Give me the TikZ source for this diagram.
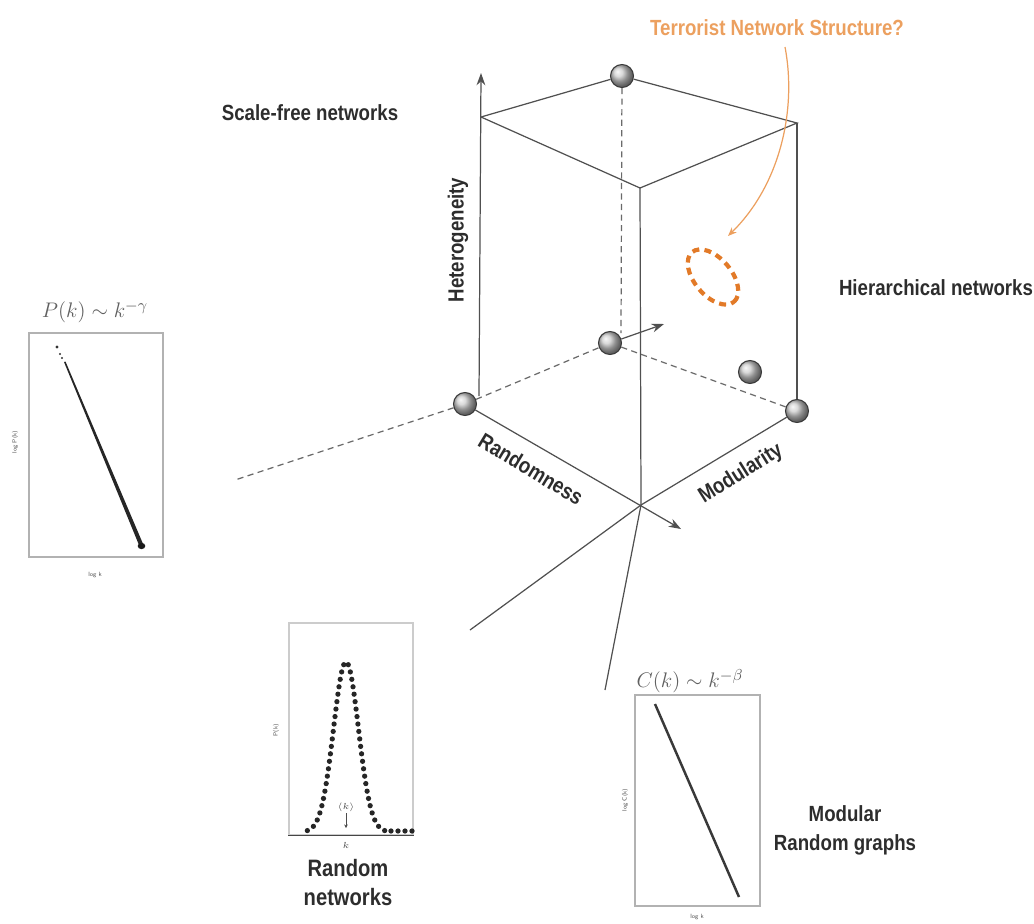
\documentclass[tikz,border=0pt]{standalone}
\usepackage{fontspec}
\newfontfamily\lab{Liberation Sans}[FakeStretch=0.85]
\usetikzlibrary{arrows.meta,shapes.geometric}
\definecolor{edge}{RGB}{80,80,80}
\definecolor{orng}{RGB}{236,160,95}
\definecolor{orngd}{RGB}{226,122,40}
\definecolor{txt}{RGB}{45,45,45}
\begin{document}
\begin{tikzpicture}[x=0.02cm,y=-0.02cm,
  edgeline/.style={draw=edge, line width=0.7pt},
  dashline/.style={draw=edge!85, line width=0.7pt, dash pattern=on 3.5pt off 2.5pt},
  sph/.style={circle, minimum size=0.46cm, inner sep=0pt, ball color=gray!40, draw=gray!45!black, line width=0.6pt},
  lbl/.style={font=\lab\bfseries\fontsize{12.5}{16}\selectfont, text=txt},
  plotbox/.style={draw=gray!60, line width=0.8pt},
  tinylbl/.style={font=\sffamily\fontsize{3.5}{4}\selectfont, text=gray!60!black, inner sep=0pt},
  ptitle/.style={font=\fontsize{13}{13}\selectfont, text=gray!75!black},
  axarrow/.style={-{Stealth[length=7pt,width=5pt]}}
]
\useasboundingbox (0,0) rectangle (1034,923);

% ---- cube corners ----
\coordinate (tl) at (481,117);
\coordinate (tr) at (797,123);
\coordinate (tf) at (640,188);
\coordinate (O) at (641,505);
\coordinate (hetBase) at (479,396);
\coordinate (hetTip) at (481,73);
\coordinate (randTip) at (681,529);
\coordinate (midTip) at (664,324);
\coordinate (dv) at (621,333);
\coordinate (dl) at (235,480);
\coordinate (l1) at (470,630);
\coordinate (l2) at (605,690);

% ---- spheres ----
\node[sph] (tb) at (622,76) {};
\node[sph] (mid) at (610,343) {};
\node[sph] (bl) at (465,404) {};
\node[sph] (br) at (797,411) {};
\node[sph] (ex) at (750,372) {};

% ---- dashed (hidden) lines ----
\draw[dashline] (tb) -- (dv);
\draw[dashline] (bl) -- (mid);
\draw[dashline] (mid) -- (br);
\draw[dashline] (bl) -- (dl);

% ---- solid edges ----
\draw[edgeline] (tl) -- (tb) -- (tr) -- (tf) -- (tl);
\draw[edgeline] (tf) -- (O);
\draw[edgeline] (tr) -- (br);
\draw[edgeline, axarrow] (hetBase) -- (hetTip);
\draw[edgeline, axarrow] (bl) -- (randTip);
\draw[edgeline] (O) -- (br);
\draw[edgeline, axarrow] (mid) -- (midTip);
\draw[edgeline] (O) -- (l1);
\draw[edgeline] (O) -- (l2);

% ---- axis labels ----
\node[lbl, rotate=90] (het) at (458,240) {Heterogeneity};
\node[lbl, rotate=-31] (rnd) at (531,469) {Randomness};
\node[lbl, rotate=32] (mod) at (741,474) {Modularity};

% ---- category labels ----
\node[lbl, anchor=base] (sf) at (310,120) {Scale-free networks};
\node[lbl, anchor=base] (hier) at (936,295) {Hierarchical networks};
\node[lbl, anchor=base, align=center] (mrg) at (845,850) {Modular\\Random graphs};
\node[lbl, anchor=base, align=center, font=\lab\bfseries\fontsize{13.5}{16}\selectfont] (rn) at (348,905) {Random\\networks};

% ---- terrorist annotation ----
\node[font=\lab\bfseries\fontsize{12.5}{15}\selectfont, text=orng, anchor=base] (terr) at (777,35) {Terrorist Network Structure?};
\node[ellipse, draw=orngd, line width=2.4pt, dash pattern=on 4pt off 3pt, minimum width=1.3cm, minimum height=0.74cm, rotate=-50] (tn) at (713,277) {};
\coordinate (oa) at (785,47);
\coordinate (ob) at (728,236);
\draw[orng, line width=0.7pt, -{Stealth[length=5pt,width=4pt]}] (oa) .. controls (797,110) and (780,185) .. (ob);

% ---- plot 1: scale-free ----
\node[plotbox, minimum width=2.68cm, minimum height=4.48cm, inner sep=0pt] (p1) at (96,445) {};
\node[ptitle] (p1t) at (95,312) {$P(k)\sim k^{-\gamma}$};
\fill[black!80] (57,347) circle (0.9pt);
\fill[black!80] (60,354) circle (0.7pt);
\fill[black!80] (62,358) circle (0.7pt);
\fill[black!85] (64,362) -- (65.5,361.5) -- (143.5,545) -- (140,547.5) -- cycle;
\fill[black!90] (141.5,546) ellipse (2.2pt and 1.8pt);
\node[tinylbl] (p1x) at (95,575) {log k};
\node[tinylbl, rotate=90] (p1y) at (15,442) {log P(k)};

% ---- plot 2: random ----
\node[plotbox, draw=gray!40, minimum width=2.48cm, minimum height=4.24cm, inner sep=0pt] (p2) at (351,729) {};
\draw[gray!55!black, line width=0.8pt] (p2.south west) -- (p2.south east);
\foreach \d in {2.25,4.34,5.80,7.02,8.10,9.11,10.07,11.0,11.91,12.81,13.72,14.64,15.58,16.56,17.58,18.65,19.81,21.11,22.52,24.14,26.13,28.77,32.6,38.65}{
  \pgfmathsetmacro\yy{832-170*exp(-\d*\d/312.5)}
  \fill[black!85] (346+\d,\yy) circle (1.5pt);
  \fill[black!85] (346-\d,\yy) circle (1.5pt);
}
\foreach \xx in {391,398,405,412}{
  \fill[black!85] (\xx,831) circle (1.5pt);
}
\node[tinylbl] (p2k) at (346,807) {$\langle k\rangle$};
\coordinate (p2a) at (346,813);
\coordinate (p2b) at (346,828);
\draw[gray!60!black, line width=0.4pt, -{Stealth[length=2pt,width=2pt]}] (p2a) -- (p2b);
\node[tinylbl] (p2x) at (346,845) {$k$};
\node[tinylbl, rotate=90] (p2y) at (276,730) {P(k)};

% ---- plot 3: hierarchical ----
\node[plotbox, minimum width=2.5cm, minimum height=4.22cm, inner sep=0pt] (p3) at (697.5,800.5) {};
\node[ptitle] (p3t) at (690,681) {$C(k)\sim k^{-\beta}$};
\coordinate (c1) at (655,704);
\coordinate (c2) at (739,897);
\draw[gray!45!black, line width=1.4pt] (c1) -- (c2);
\node[tinylbl] (p3x) at (697,917) {log k};
\node[tinylbl, rotate=90] (p3y) at (625,800) {log C(k)};
\end{tikzpicture}
\end{document}
